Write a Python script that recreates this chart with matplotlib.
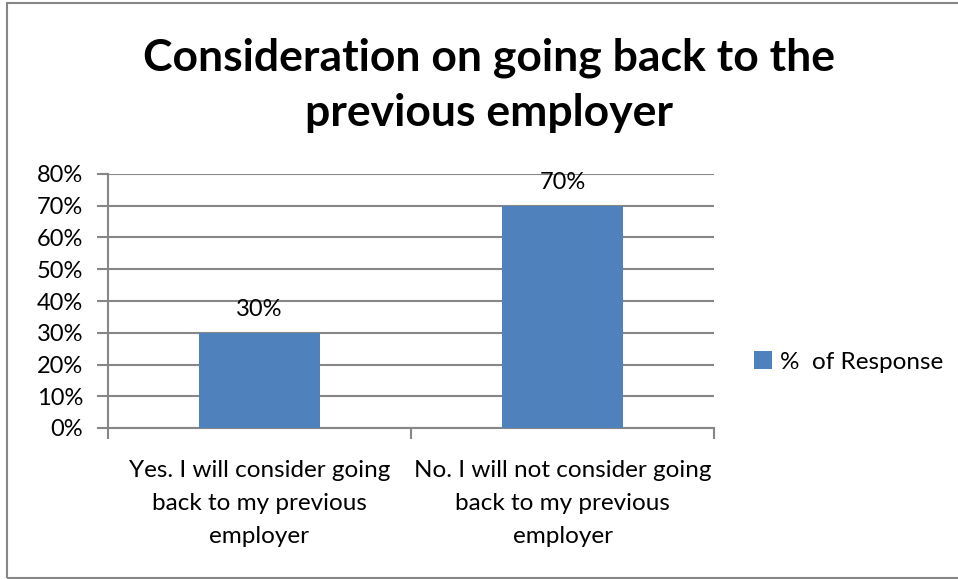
import matplotlib
matplotlib.use("Agg")
import matplotlib.pyplot as plt
from matplotlib.patches import Rectangle
from matplotlib.ticker import FixedLocator

categories = [
    "Yes. I will consider going\nback to my previous\nemployer",
    "No. I will not consider going\nback to my previous\nemployer",
]
responses = [30, 70]
yticks = [0, 10, 20, 30, 40, 50, 60, 70, 80]
series_name = "%  of Response"
title = "Consideration on going back to the\nprevious employer"

plt.rcParams["font.family"] = ["Lato", "DejaVu Sans"]

W, H = 958, 579
fig = plt.figure(figsize=(W / 100, H / 100), dpi=100)

# outer chart frame
fig.patches.append(Rectangle((7 / W, 1 - 578 / H), 960 / W, 575 / H,
                             transform=fig.transFigure, fill=False,
                             edgecolor="#868686", linewidth=1.5))

ax = fig.add_axes([108 / W, 1 - 428 / H, (714 - 108) / W, (428 - 174) / H])

grid_c = "#868686"
bar_c = "#4F81BD"
x = list(range(len(categories)))
bars = ax.bar(x, responses, width=0.4, color=bar_c, label=series_name, zorder=3)

ax.set_xlim(-0.5, len(categories) - 0.5)
ax.set_ylim(0, 80)
ax.set_yticks(yticks)
ax.set_yticklabels([f"{v}%" for v in yticks])
ax.yaxis.grid(True, color=grid_c, linewidth=1.5, zorder=0)

ax.set_xticks(x)
ax.set_xticklabels(categories, linespacing=1.7)
ax.xaxis.set_minor_locator(FixedLocator([-0.5, 0.5, 1.5]))
ax.tick_params(axis="x", which="major", length=0, pad=23, labelsize=17.5)
ax.tick_params(axis="x", which="minor", length=8, width=1.5, color=grid_c, direction="out")
ax.tick_params(axis="y", length=8, width=1.5, color=grid_c, pad=10, labelsize=17)

for s in ["top", "right"]:
    ax.spines[s].set_visible(False)
for s in ["left", "bottom"]:
    ax.spines[s].set_color(grid_c)
    ax.spines[s].set_linewidth(1.5)

for xi, v in zip(x, responses):
    ax.annotate(f"{v}%", (xi, v), xytext=(0, 9), textcoords="offset points",
                ha="center", va="bottom", fontsize=17)

fig.text(489 / W, 1 - 85 / H, title, ha="center", va="center",
         fontsize=32, fontweight="bold", linespacing=1.45)

fig.legend(handles=[bars], labels=[series_name], loc="center left",
           bbox_to_anchor=(754 / W, 1 - 362 / H), frameon=False,
           borderpad=0, borderaxespad=0,
           fontsize=17.5, handlelength=0.75, handleheight=0.75, handletextpad=0.3)

fig.savefig("out.png", dpi=100)
